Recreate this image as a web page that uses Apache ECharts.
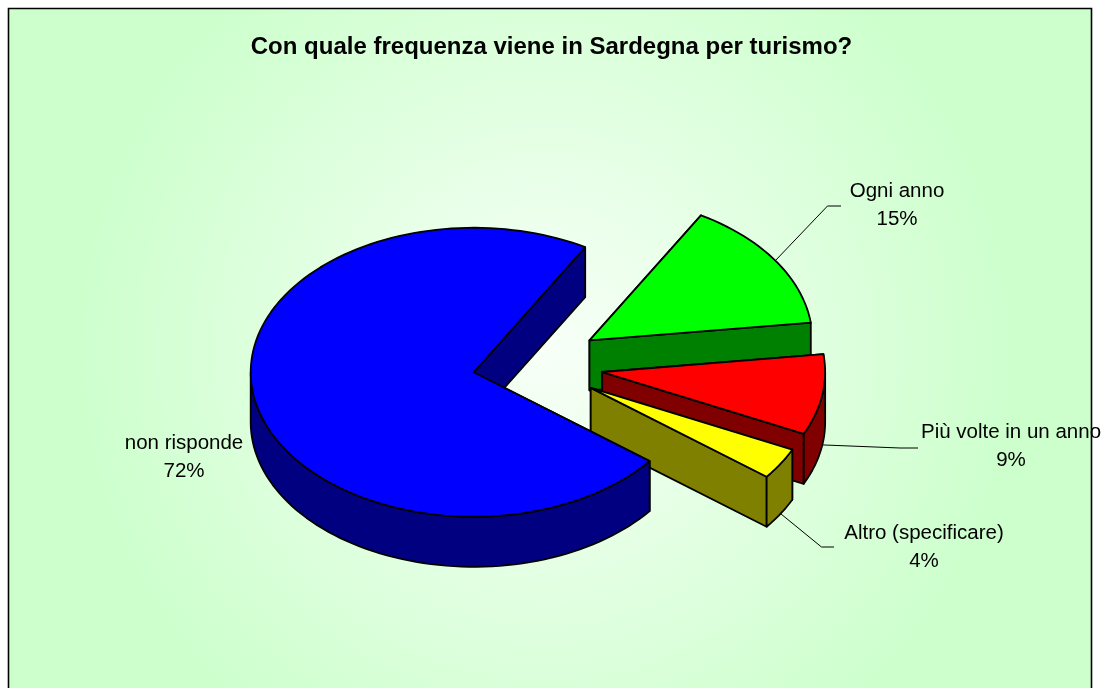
<!DOCTYPE html>
<html>
<head>
<meta charset="utf-8">
<title>Con quale frequenza viene in Sardegna per turismo?</title>
<script src="https://cdn.jsdelivr.net/npm/echarts@6/dist/echarts.min.js"></script>
<style>
  html, body { margin: 0; padding: 0; background: #fff; }
  #chart { width: 1103px; height: 688px; }
</style>
</head>
<body>
<div id="chart"></div>
<script>
// dati
const titleText = "Con quale frequenza viene in Sardegna per turismo?";
const categories = ["Ogni anno", "Più volte in un anno", "Altro (specificare)", "non risponde"];
const values = [14.7, 9.0, 3.5, 72.8]; // stimati dalle fette
const percentLabels = ["15%", "9%", "4%", "72%"]; // come stampati
const topColors = ["#00ff00", "#ff0000", "#ffff00", "#0000ff"];
const sideColors = ["#008000", "#800000", "#808000", "#000080"];

// layout della torta
const pieCenter = [532.8, 364.8];
const radiusX = 223;
const radiusY = 144.5;
const depth = 50;
const startAngle = 30;
const explode = [0.305, 0.315, 0.305, 0.27];
const labelFont = "Liberation Sans";
// centro del testo e gomito + fine della linea guida
const labelPos = [[897, 205], [1011, 446], [924, 547], [184, 457]];
const leaderPos = [
  [[827.5, 206], [841, 206]],
  [[900, 448], [918, 448]],
  [[821.5, 547], [834, 547]],
  null,
];

const total = values.reduce((a, b) => a + b, 0);

function sliceAngles(index) {
  let a0 = startAngle;
  for (let i = 0; i < index; i++) a0 += (values[i] / total) * 360;
  return [a0, a0 + (values[index] / total) * 360];
}

// angolo in gradi, in senso orario dalle ore 12
function onEllipse(c, deg, dy) {
  const t = (deg * Math.PI) / 180;
  return [c[0] + radiusX * Math.sin(t), c[1] - radiusY * Math.cos(t) + (dy || 0)];
}

function arcPoints(c, from, to, dy) {
  const pts = [];
  const steps = Math.max(2, Math.ceil((to - from) / 2));
  for (let i = 0; i <= steps; i++) {
    pts.push(onEllipse(c, from + ((to - from) * i) / steps, dy));
  }
  return pts;
}

function face(points, fill) {
  return {
    type: "polygon",
    shape: { points: points },
    style: { fill: fill, stroke: "#000", lineWidth: 1.8, lineJoin: "round" },
  };
}

function renderSlice(params, api) {
  const i = params.dataIndex;
  const [a0, a1] = sliceAngles(i);
  const mid = (a0 + a1) / 2;
  const midRad = (mid * Math.PI) / 180;
  const c = [
    pieCenter[0] + explode[i] * radiusX * Math.sin(midRad),
    pieCenter[1] - explode[i] * radiusY * Math.cos(midRad),
  ];
  const bottom = [c[0], c[1] + depth];
  const p0 = onEllipse(c, a0);
  const p1 = onEllipse(c, a1);
  const children = [
    face([c, p0, onEllipse(c, a0, depth), bottom], sideColors[i]),
    face([c, p1, onEllipse(c, a1, depth), bottom], sideColors[i]),
  ];

  // parete esterna: solo la metà verso chi guarda
  const from = Math.max(a0, 90);
  const to = Math.min(a1, 270);
  if (to > from) {
    children.push(
      face(arcPoints(c, from, to, 0).concat(arcPoints(c, from, to, depth).reverse()), sideColors[i])
    );
  }
  children.push(face([c].concat(arcPoints(c, a0, a1, 0)), topColors[i]));

  if (leaderPos[i]) {
    const start = onEllipse(c, mid, mid > 90 ? depth : 0);
    children.push({
      type: "polyline",
      shape: { points: [start].concat(leaderPos[i]) },
      style: { fill: "none", stroke: "#000", lineWidth: 1 },
    });
  }
  children.push({
    type: "text",
    style: {
      text: categories[i] + "\n" + percentLabels[i],
      x: labelPos[i][0],
      y: labelPos[i][1],
      align: "center",
      verticalAlign: "middle",
      fontFamily: labelFont,
      fontSize: 20.5,
      lineHeight: 27.7,
      fill: "#000",
    },
  });
  return { type: "group", children: children };
}

const myChart = echarts.init(document.getElementById("chart"));
myChart.setOption({
  animation: false,
  backgroundColor: "#fff",
  title: {
    text: titleText,
    left: "center",
    top: 30,
    textStyle: { fontFamily: labelFont, fontSize: 24, fontWeight: "bold", color: "#000" },
  },
  graphic: [
    {
      type: "rect",
      silent: true,
      shape: { x: 8.5, y: 8.5, width: 1083, height: 720 },
      style: {
        fill: new echarts.graphic.RadialGradient(
          545,
          350,
          480,
          [
            { offset: 0, color: "#f8fff8" },
            { offset: 1, color: "#ccffcc" },
          ],
          true
        ),
        stroke: "#000",
        lineWidth: 1.6,
      },
    },
  ],
  series: [
    {
      type: "custom",
      coordinateSystem: "none",
      silent: true,
      data: values,
      renderItem: renderSlice,
    },
  ],
});
</script>
</body>
</html>
